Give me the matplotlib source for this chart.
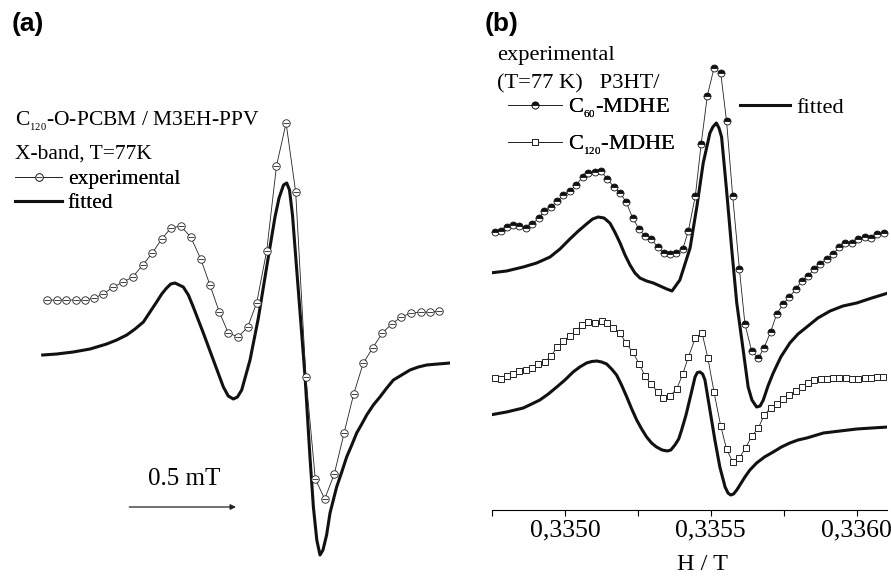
import numpy as np
import matplotlib
matplotlib.use("Agg")
import matplotlib.pyplot as plt
from matplotlib.lines import Line2D

plt.rcParams['font.family'] = ['Liberation Serif', 'DejaVu Serif']
plt.rcParams['mathtext.fontset'] = 'custom'
plt.rcParams['mathtext.rm'] = 'Liberation Serif'
plt.rcParams['mathtext.it'] = 'Liberation Serif:italic'

# ---- panel (a): C120-O-PCBM / M3EH-PPV, field offset in mT, intensity a.u.
a_exp_x = [-0.384, -0.340, -0.297, -0.251, -0.208, -0.164, -0.122, -0.075, -0.028, 0.016,
           0.063, 0.108, 0.152, 0.195, 0.241, 0.288, 0.335, 0.378, 0.422, 0.464,
           0.511, 0.555, 0.597, 0.644, 0.690, 0.735, 0.780, 0.828, 0.872, 0.916,
           0.961, 1.007, 1.052, 1.097, 1.141, 1.186, 1.230, 1.275, 1.321, 1.366,
           1.410, 1.454]
a_exp_y = [26.0, 26.0, 26.0, 26.0, 26.0, 26.2, 26.6, 27.3, 27.8, 28.3,
           29.5, 30.7, 32.1, 33.2, 33.4, 32.3, 30.1, 27.5, 24.8, 22.7,
           22.3, 23.3, 25.7, 30.9, 39.4, 43.7, 36.8, 18.3, 8.1, 6.1,
           8.6, 12.7, 16.6, 19.7, 21.2, 22.7, 23.6, 24.3, 24.7, 24.8,
           24.8, 24.9]
a_fit_x = [-0.406, -0.340, -0.263, -0.184, -0.106, -0.059, -0.012, 0.027, 0.066, 0.097,
           0.128, 0.152, 0.175, 0.194, 0.214, 0.253, 0.277, 0.300, 0.347, 0.394,
           0.441, 0.464, 0.488, 0.507, 0.527, 0.566, 0.605, 0.644, 0.683, 0.702,
           0.723, 0.738, 0.751, 0.765, 0.785, 0.808, 0.824, 0.847, 0.863, 0.879,
           0.894, 0.908, 0.925, 0.941, 0.972, 0.996, 1.019, 1.043, 1.066, 1.090,
           1.113, 1.144, 1.175, 1.207, 1.238, 1.277, 1.316, 1.355, 1.394, 1.447,
           1.504]
a_fit_y = [20.5, 20.6, 20.8, 21.1, 21.6, 22.0, 22.5, 23.1, 23.8, 24.8,
           25.8, 26.6, 27.2, 27.6, 27.7, 27.3, 26.5, 25.3, 22.7, 20.0,
           17.3, 16.4, 16.1, 16.3, 17.0, 20.0, 24.2, 29.3, 34.3, 36.2,
           37.5, 37.7, 37.0, 34.5, 29.0, 22.7, 18.3, 10.3, 5.3, 2.0,
           0.5, 1.0, 2.5, 4.7, 7.3, 8.8, 10.3, 11.5, 12.7, 13.6,
           14.5, 15.5, 16.3, 17.2, 18.0, 18.5, 19.0, 19.3, 19.5, 19.6,
           19.7]

# ---- panel (b): P3HT / C60-MDHE and P3HT / C120-MDHE, H in T
c60_x = [0.334759, 0.334780, 0.334802, 0.334823, 0.334843, 0.334865, 0.334888, 0.334910,
         0.334929, 0.334952, 0.334974, 0.334994, 0.335017, 0.335038, 0.335061, 0.335080,
         0.335103, 0.335123, 0.335145, 0.335168, 0.335189, 0.335210, 0.335232, 0.335254,
         0.335274, 0.335296, 0.335318, 0.335338, 0.335360, 0.335381, 0.335404, 0.335423,
         0.335447, 0.335467, 0.335488, 0.335511, 0.335534, 0.335554, 0.335575, 0.335598,
         0.335617, 0.335640, 0.335663, 0.335682, 0.335705, 0.335726, 0.335748, 0.335769,
         0.335792, 0.335811, 0.335834, 0.335854, 0.335874, 0.335897, 0.335920, 0.335940,
         0.335960, 0.335983, 0.336006, 0.336028, 0.336049, 0.336071, 0.336094]
c60_y = [27.8, 27.9, 28.3, 28.5, 28.4, 28.2, 28.6, 29.2, 29.9, 30.3, 30.9, 31.5, 31.9,
         32.5, 33.3, 33.7, 33.8, 33.9, 33.1, 32.3, 31.7, 30.8, 29.2, 28.1, 27.4, 27.1,
         26.3, 25.7, 25.6, 25.7, 26.1, 27.9, 31.4, 36.6, 41.4, 44.2, 43.7, 38.9, 31.4,
         24.1, 18.6, 15.9, 15.2, 16.2, 17.8, 19.6, 20.6, 21.3, 22.1, 22.9, 23.4, 24.1,
         24.6, 25.1, 25.6, 26.3, 26.7, 26.7, 27.1, 27.3, 27.2, 27.6, 27.7]
c60_fit_x = [0.334743, 0.334800, 0.334857, 0.334903, 0.334949, 0.334983, 0.335017, 0.335046,
             0.335074, 0.335095, 0.335114, 0.335134, 0.335154, 0.335171, 0.335189, 0.335206,
             0.335223, 0.335240, 0.335257, 0.335280, 0.335303, 0.335326, 0.335349, 0.335367,
             0.335394, 0.335429, 0.335452, 0.335474, 0.335497, 0.335507, 0.335519, 0.335528,
             0.335537, 0.335554, 0.335572, 0.335589, 0.335611, 0.335628, 0.335641, 0.335657,
             0.335669, 0.335680, 0.335696, 0.335714, 0.335740, 0.335771, 0.335799, 0.335829,
             0.335867, 0.335909, 0.335953, 0.336000, 0.336052, 0.336108]
c60_fit_y = [23.7, 23.9, 24.3, 24.7, 25.3, 26.1, 27.1, 27.9,
             28.6, 29.1, 29.3, 29.2, 28.7, 27.8, 26.7, 25.5,
             24.5, 23.7, 23.2, 22.9, 22.7, 22.4, 22.1, 21.9,
             23.0, 26.2, 30.3, 34.7, 37.7, 38.3, 38.7, 38.2,
             37.3, 32.0, 26.0, 20.7, 16.0, 12.3, 11.0, 10.3,
             10.4, 11.0, 12.4, 13.7, 15.3, 16.7, 17.6, 18.3,
             19.2, 19.9, 20.4, 20.7, 21.2, 21.7]

c120_x = [0.334760, 0.334781, 0.334802, 0.334823, 0.334843, 0.334866, 0.334888, 0.334908,
          0.334931, 0.334952, 0.334974, 0.334994, 0.335017, 0.335038, 0.335059, 0.335080,
          0.335103, 0.335126, 0.335145, 0.335166, 0.335189, 0.335209, 0.335232, 0.335255,
          0.335274, 0.335295, 0.335318, 0.335337, 0.335360, 0.335383, 0.335404, 0.335423,
          0.335447, 0.335470, 0.335490, 0.335511, 0.335534, 0.335554, 0.335575, 0.335598,
          0.335619, 0.335641, 0.335663, 0.335683, 0.335705, 0.335726, 0.335746, 0.335769,
          0.335791, 0.335811, 0.335834, 0.335854, 0.335877, 0.335897, 0.335920, 0.335940,
          0.335962, 0.335985, 0.336006, 0.336028, 0.336049, 0.336071, 0.336091]
c120_y = [13.2, 13.1, 13.4, 13.6, 13.9, 14.0, 14.2, 14.6, 14.8, 15.4, 16.3, 16.9, 17.4,
          17.9, 18.5, 18.8, 18.7, 18.9, 18.7, 18.2, 17.7, 16.7, 15.8, 14.6, 13.4, 12.6,
          11.8, 11.2, 11.4, 12.1, 13.6, 15.3, 17.2, 17.7, 15.2, 11.8, 8.4, 6.1, 4.8,
          5.2, 6.2, 7.4, 8.2, 9.5, 10.2, 10.6, 11.1, 11.5, 11.9, 12.3, 12.7, 13.0,
          13.1, 13.1, 13.2, 13.2, 13.2, 13.1, 13.1, 13.2, 13.2, 13.3, 13.3]
c120_fit_x = [0.334743, 0.334800, 0.334857, 0.334886, 0.334914, 0.334943, 0.334972, 0.335000,
              0.335028, 0.335051, 0.335074, 0.335092, 0.335109, 0.335126, 0.335143, 0.335160,
              0.335177, 0.335194, 0.335212, 0.335229, 0.335246, 0.335263, 0.335280, 0.335297,
              0.335314, 0.335333, 0.335351, 0.335363, 0.335377, 0.335390, 0.335400, 0.335415,
              0.335429, 0.335446, 0.335454, 0.335463, 0.335472, 0.335480, 0.335497, 0.335514,
              0.335531, 0.335549, 0.335559, 0.335568, 0.335578, 0.335589, 0.335602, 0.335617,
              0.335634, 0.335657, 0.335684, 0.335714, 0.335742, 0.335771, 0.335799, 0.335829,
              0.335886, 0.335943, 0.336000, 0.336052, 0.336108]
c120_fit_y = [9.5, 9.8, 10.2, 10.6, 11.0, 11.6, 12.3, 13.0,
              13.8, 14.3, 14.7, 14.85, 14.9, 14.8, 14.6, 14.1,
              13.5, 12.5, 11.3, 10.1, 9.0, 8.1, 7.3, 6.7,
              6.3, 6.0, 5.9, 6.0, 6.5, 7.1, 8.0, 9.5,
              11.2, 13.3, 13.75, 13.8, 13.6, 13.0, 10.0, 7.0,
              4.3, 2.3, 1.7, 1.5, 1.6, 2.0, 2.6, 3.3,
              4.0, 4.7, 5.3, 5.8, 6.3, 6.7, 7.0, 7.2,
              7.7, 7.9, 8.1, 8.2, 8.3]

b_major = [0.3350, 0.3355, 0.3360]
b_major_labels = ['0,3350', '0,3355', '0,3360']
b_minor = [0.33475, 0.33525, 0.33575]

FS = 15.5
FSB = 16.2
W, H = 891, 577
fig = plt.figure(figsize=(W / 100, H / 100), dpi=100)

# ---------------- panel (a)
axa = fig.add_axes([0, 7 / H, 450 / W, 520 / H])
axa.set_xlim(-0.6062, 1.5035)
axa.set_ylim(-1, 51)
axa.axis('off')

axa.plot(a_fit_x, a_fit_y, color='#111111', lw=2.2, solid_joinstyle='round')
axa.plot(a_exp_x, a_exp_y, color='#222222', lw=0.6, marker='o', ms=5.4,
         mfc='white', mec='#222222', mew=0.6)
axa.plot(a_exp_x, a_exp_y, ls='none', marker='_', ms=4.6, mec='#222222', mew=0.6)

# 0.5 mT scale arrow
axa.annotate('', xy=(0.5, 5.3), xytext=(0.0, 5.3),
             arrowprops=dict(arrowstyle='-|>', lw=0.9, color='#222222',
                             mutation_scale=8, shrinkA=0, shrinkB=0))
axa.text(0.255, 8.1, '0.5 mT', ha='center', va='center', fontsize=18)

fig.text(15 / W, 1 - 126 / H, r'C$_{_{120}}$-O-PCBM / M3EH-PPV', fontsize=FS, va='baseline')
fig.text(15 / W, 1 - 159 / H, 'X-band, T=77K', fontsize=FS, va='baseline')

exp_a_handle = (Line2D([], [], color='#222222', lw=0.6, marker='o', ms=5.4, mfc='white',
                       mec='#222222', mew=0.6),
                Line2D([], [], ls='none', marker='_', ms=4.6, mec='#222222', mew=0.6))
fit_handle = Line2D([], [], color='#111111', lw=2.2)
leg_a = fig.legend([exp_a_handle, fit_handle], ['experimental', 'fitted'],
                   loc='upper left', bbox_to_anchor=(15 / W, 1 - 169 / H),
                   frameon=False, fontsize=FS, handlelength=2.2, handletextpad=0.25,
                   borderpad=0, borderaxespad=0, labelspacing=0.2)

# ---------------- panel (b)
axb = fig.add_axes([492 / W, 67 / H, 395 / W, 460 / H])
axb.set_xlim(0.33475, 0.336104)
axb.set_ylim(0, 46)
for s in ['top', 'left', 'right']:
    axb.spines[s].set_visible(False)
axb.spines['bottom'].set_linewidth(0.8)
axb.yaxis.set_visible(False)
axb.set_xticks(b_major)
axb.set_xticklabels(b_major_labels)
axb.set_xticks(b_minor, minor=True)
axb.tick_params(axis='x', which='both', direction='out', length=4.5, width=0.8,
                labelsize=18.5, pad=2.5)
axb.set_xlabel('H / T', fontsize=17.5)
axb.xaxis.set_label_coords(0.533, -0.095)

axb.plot(c60_fit_x, c60_fit_y, color='#111111', lw=2.2)
axb.plot(c120_fit_x, c120_fit_y, color='#111111', lw=2.2)
axb.plot(c60_x, c60_y, color='#222222', lw=0.6, marker='o', ms=5.0, fillstyle='top',
         mfc='#111111', mfcalt='white', mec='#111111', mew=0.6, clip_on=False)
axb.plot(c120_x, c120_y, color='#222222', lw=0.6, marker='s', ms=5.0,
         mfc='white', mec='#222222', mew=0.7, clip_on=False)

fig.text(497 / W, 1 - 60 / H, 'experimental', fontsize=FSB, va='baseline')
fig.text(497 / W, 1 - 88 / H, '(T=77 K)   P3HT/', fontsize=FSB, va='baseline')

h60 = Line2D([], [], color='#222222', lw=0.6, marker='o', ms=5.0, fillstyle='top',
             mfc='#111111', mfcalt='white', mec='#111111', mew=0.6)
h120 = Line2D([], [], color='#222222', lw=0.6, marker='s', ms=5.0, mfc='white',
              mec='#222222', mew=0.7)
leg_b = fig.legend([h60, h120], [r'C$_{_{60}}$-MDHE', r'C$_{_{120}}$-MDHE'],
                   loc='upper left', bbox_to_anchor=(508 / W, 1 - 97 / H),
                   frameon=False, fontsize=FSB, handlelength=2.4, handletextpad=0.25,
                   borderpad=0, borderaxespad=0, labelspacing=0.6)
fig.add_artist(leg_a)
fig.legend([fit_handle], ['fitted'], loc='upper left', bbox_to_anchor=(740 / W, 1 - 97 / H),
           frameon=False, fontsize=FSB, handlelength=2.2, handletextpad=0.3,
           borderpad=0, borderaxespad=0)
fig.add_artist(leg_b)

fig.text(12 / W, 1 - 31 / H, '(a)', fontsize=19, fontweight='bold',
         family='Liberation Sans', va='baseline')
fig.text(485 / W, 1 - 31 / H, '(b)', fontsize=19, fontweight='bold',
         family='Liberation Sans', va='baseline')

fig.savefig('out.png', dpi=100)
